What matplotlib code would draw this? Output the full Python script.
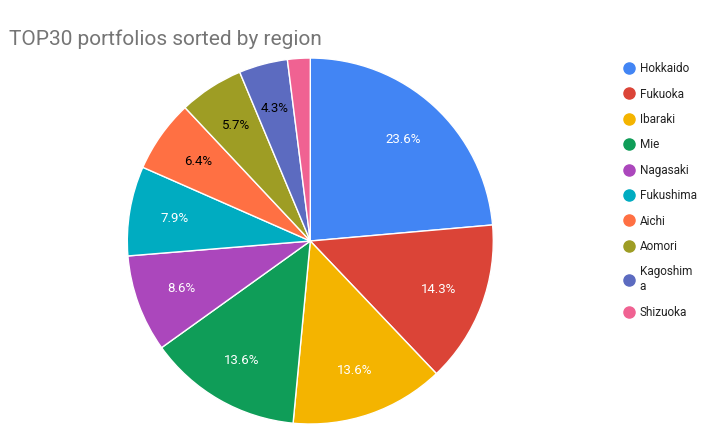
import matplotlib.pyplot as plt
from matplotlib.lines import Line2D

regions = ["Hokkaido", "Fukuoka", "Ibaraki", "Mie", "Nagasaki", "Fukushima",
           "Aichi", "Aomori", "Kagoshima", "Shizuoka"]
legend_labels = ["Hokkaido", "Fukuoka", "Ibaraki", "Mie", "Nagasaki", "Fukushima",
                 "Aichi", "Aomori", "Kagoshim\na", "Shizuoka"]
shares = [23.6, 14.3, 13.6, 13.6, 8.6, 7.9, 6.4, 5.7, 4.3, 2.0]
colors = ["#4285f4", "#db4437", "#f4b400", "#0f9d58", "#ab47bc", "#00acc1",
          "#ff7043", "#9e9d24", "#5c6bc0", "#f06292"]
text_colors = ["white"] * 6 + ["black"] * 4

plt.rcParams['font.family'] = ['Roboto', 'DejaVu Sans']
fig = plt.figure(figsize=(7.25, 4.48), dpi=100)
ax = fig.add_axes([0.428 - 0.2524, 0.462 - 0.4085, 0.5048, 0.817])

wedges, texts, autotexts = ax.pie(
    shares, colors=colors, startangle=90, counterclock=False,
    autopct=lambda p: f"{p:.1f}%" if p >= 3 else "", pctdistance=0.75,
    wedgeprops=dict(edgecolor="white", linewidth=1), textprops=dict(fontsize=9.5))
for t, c in zip(autotexts, text_colors):
    t.set_color(c)
ax.set_xlim(-1, 1)
ax.set_ylim(-1, 1)
ax.set_aspect("equal")

fig.text(0.012, 0.9, "TOP30 portfolios sorted by region", fontsize=15, color="#757575")

handles = [Line2D([], [], marker="o", linestyle="", markersize=8, color=c) for c in colors]
leg = fig.legend(handles, legend_labels, loc="upper left", bbox_to_anchor=(0.845, 0.885),
                 frameon=False, fontsize=8.5, labelspacing=1.05, handletextpad=0.4,
                 handlelength=1.0)
for t in leg.get_texts():
    t.set_color("#222222")

fig.savefig("out.png", dpi=100)
